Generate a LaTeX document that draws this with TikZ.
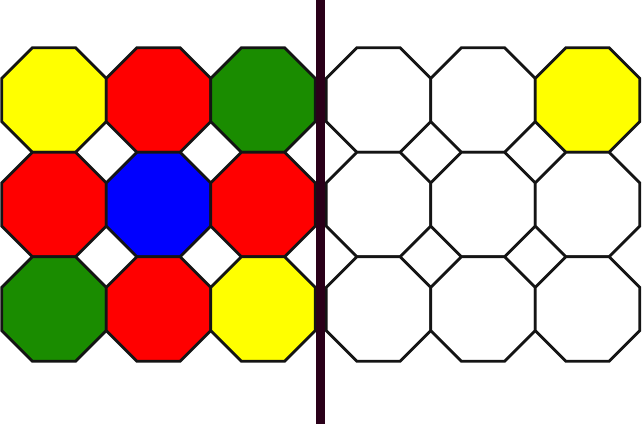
\documentclass[tikz,border=0pt]{standalone}
\usetikzlibrary{shapes.geometric}
\definecolor{ylw}{HTML}{FFFF00}
\definecolor{rd}{HTML}{FF0000}
\definecolor{grn}{HTML}{1A8C00}
\definecolor{blu}{HTML}{0000FF}
\definecolor{edge}{HTML}{141414}
\definecolor{bar}{HTML}{2A0019}
\tikzset{
  oct/.style={regular polygon, regular polygon sides=8, minimum size=113.1pt,
    inner sep=0pt, outer sep=0pt, draw=edge, line width=2.8pt, line join=miter, fill=#1},
  oct/.default=white
}
\begin{document}
\begin{tikzpicture}[x=1pt,y=-1pt]
\useasboundingbox (0,0) rectangle (642,424);
% left grid
\node[oct=ylw] (L11) at (54,100) {};
\node[oct=rd]  (L12) at (158.5,100) {};
\node[oct=grn] (L13) at (263,100) {};
\node[oct=rd]  (L21) at (54,204.5) {};
\node[oct=blu] (L22) at (158.5,204.5) {};
\node[oct=rd]  (L23) at (263,204.5) {};
\node[oct=grn] (L31) at (54,309) {};
\node[oct=rd]  (L32) at (158.5,309) {};
\node[oct=ylw] (L33) at (263,309) {};
% right grid
\node[oct] (R11) at (378.5,100) {};
\node[oct] (R12) at (483,100) {};
\node[oct=ylw] (R13) at (587.5,100) {};
\node[oct] (R21) at (378.5,204.5) {};
\node[oct] (R22) at (483,204.5) {};
\node[oct] (R23) at (587.5,204.5) {};
\node[oct] (R31) at (378.5,309) {};
\node[oct] (R32) at (483,309) {};
\node[oct] (R33) at (587.5,309) {};
% divider
\fill[bar] (316,0) rectangle (325,424);
\end{tikzpicture}
\end{document}
